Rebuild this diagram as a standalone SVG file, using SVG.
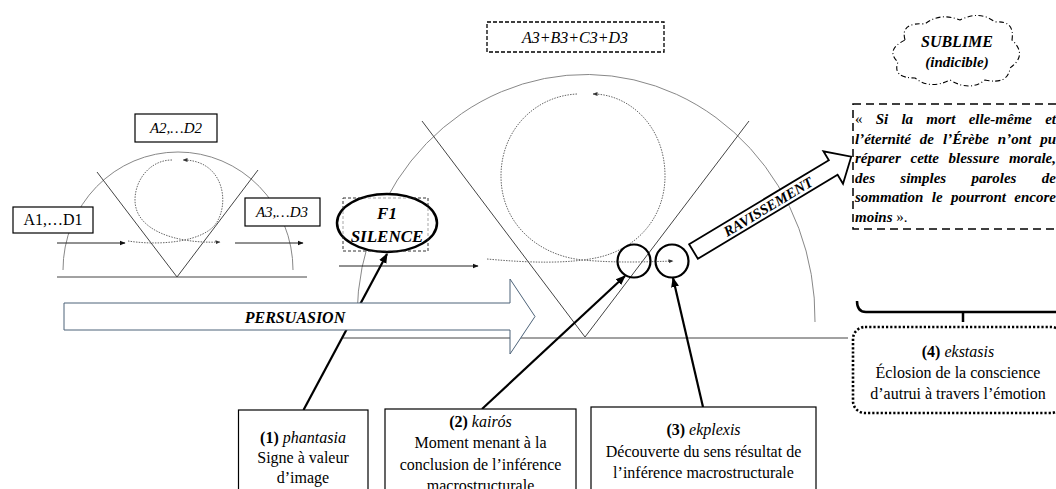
<svg xmlns="http://www.w3.org/2000/svg" width="1056" height="489" viewBox="0 0 1056 489">
<style>
text{font-family:"Liberation Serif","Times New Roman",serif;fill:#000}
.t16{font-size:16px}
.it{font-style:italic}
.b{font-weight:bold}
.bi{font-weight:bold;font-style:italic}
.box{fill:#fff;stroke:#000;stroke-width:1.2}
.arc{fill:none;stroke:#888;stroke-width:1}
.vl{fill:none;stroke:#444;stroke-width:1}
.dot{fill:none;stroke:#666;stroke-width:1;stroke-dasharray:1.5 1.2}
.thin{fill:none;stroke:#222;stroke-width:1}
.con{fill:none;stroke:#000;stroke-width:2.2}
.qw{font-size:15px;font-weight:bold;font-style:italic}
</style>
<defs>
<marker id="ah" viewBox="0 0 10 10" refX="9" refY="5" markerWidth="10" markerHeight="10" markerUnits="userSpaceOnUse" orient="auto"><path d="M0,1 L10,5 L0,9 z" fill="#000"/></marker>
<marker id="ahs" viewBox="0 0 10 10" refX="9" refY="5" markerWidth="6" markerHeight="6" markerUnits="userSpaceOnUse" orient="auto"><path d="M0,1 L10,5 L0,9 z" fill="#111"/></marker>
<marker id="ahd" viewBox="0 0 10 10" refX="9" refY="5" markerWidth="5" markerHeight="5" markerUnits="userSpaceOnUse" orient="auto"><path d="M0,1 L10,5 L0,9 z" fill="#333"/></marker>
</defs>

<!-- small diagram -->
<g id="small-diagram">
<path class="arc" d="M63,270 A115,118 0 1 1 293,270"/>
<line class="vl" x1="57" y1="277" x2="307" y2="277"/>
<path class="vl" d="M97,172 L177,277 L258,170"/>
<path class="dot" d="M128,241 C160,246 205,242 217,222 C230,200 222,160 183,160" marker-end="url(#ahd)"/>
<path class="dot" d="M172,160 C150,160 135,180 135,200 C135,230 175,244 220,242" marker-end="url(#ahd)"/>
<line class="thin" x1="57" y1="243" x2="125" y2="243" marker-end="url(#ahs)"/>
<line class="thin" x1="235" y1="243" x2="303" y2="243" marker-end="url(#ahs)"/>
</g>
<g id="node-a1">
<rect class="box" x="13" y="207" width="80" height="26"/>
<text class="t16" x="53" y="225" text-anchor="middle">A1,…D1</text>
</g>
<g id="node-a2">
<rect class="box" x="135" y="114" width="82" height="28"/>
<text class="it" font-size="15" x="176" y="133" text-anchor="middle">A2,…D2</text>
</g>
<g id="node-a3">
<rect class="box" x="245" y="198" width="75" height="28"/>
<text class="it" font-size="15" x="282" y="217" text-anchor="middle">A3,…D3</text>
</g>

<!-- big diagram -->
<g id="big-diagram">
<path class="arc" d="M357,315 A229,244 0 1 1 815,322"/>
<line class="vl" x1="343" y1="338" x2="848" y2="338"/>
<path class="vl" stroke="#555" d="M422,121 L585,337 L749,121"/>
<path class="dot" d="M487,259 C530,263 570,264 600,257 C640,247 665,215 665,176 C665,125 628,94 593,94" marker-end="url(#ahd)"/>
<path class="dot" d="M577,94 C535,96 501,130 501,176 C501,225 540,256 583,260 C615,263 645,262 673,261" marker-end="url(#ahd)"/>
<line class="thin" x1="339" y1="266" x2="478" y2="266" marker-end="url(#ahs)"/>
</g>
<g id="node-sum">
<rect x="487" y="22" width="177" height="30" fill="#fff" stroke="#000" stroke-width="1.3" stroke-dasharray="4 2"/>
<text class="it" font-size="16" x="575" y="43" text-anchor="middle">A3+B3+C3+D3</text>
</g>
<g id="node-kairos-circle"><circle cx="634" cy="261" r="16.5" fill="none" stroke="#000" stroke-width="2.2"/></g>
<g id="node-ekplexis-circle"><circle cx="672" cy="261" r="16.5" fill="none" stroke="#000" stroke-width="2.2"/></g>

<!-- connectors -->
<g id="connectors">
<line class="con" x1="303.5" y1="410" x2="387" y2="254" marker-end="url(#ah)"/>
<line class="con" x1="482" y1="409" x2="625" y2="276" marker-end="url(#ah)"/>
<line class="con" x1="703" y1="407" x2="673" y2="278" marker-end="url(#ah)"/>
</g>

<g id="node-persuasion">
<path d="M64,303 L510,303 L510,279 L535,316.5 L510,354 L510,330 L64,330 Z" fill="#fff" stroke="#4d6379" stroke-width="1"/>
<text class="bi" font-size="16" x="295" y="323" text-anchor="middle">PERSUASION</text>
</g>

<g id="node-silence">
<rect x="343" y="198" width="85" height="53" fill="none" stroke="#444" stroke-width="0.8" stroke-dasharray="3 2"/>
<ellipse cx="387" cy="223" rx="50" ry="29" fill="#fff" stroke="#000" stroke-width="2.5"/>
<rect x="343" y="198" width="85" height="53" fill="none" stroke="#444" stroke-width="0.8" stroke-dasharray="3 2" opacity="0.6"/>
<text class="bi" font-size="17" x="387" y="219" text-anchor="middle">F1</text>
<text class="bi" font-size="17" x="387" y="242" text-anchor="middle">SILENCE</text>
</g>

<g id="node-ravissement" transform="translate(693.5,251.5) rotate(-31)">
<path d="M0,-8.5 L163,-8.5 L163,-19 L184,0 L163,19 L163,8.5 L0,8.5 Z" fill="#fff" stroke="#000" stroke-width="1.8"/>
<text class="bi" font-size="14.5" x="87" y="5" text-anchor="middle">RAVISSEMENT</text>
</g>

<g id="node-sublime">
<path d="M905,40 Q900,22 925,24 Q940,12 960,20 Q980,10 995,22 Q1015,20 1012,40 Q1028,55 1010,68 Q1008,85 985,80 Q970,92 950,80 Q930,90 915,78 Q892,78 898,62 Q885,50 905,40 Z" fill="#fff" stroke="#000" stroke-width="1.1" stroke-dasharray="5 2.5 1 2.5"/>
<text class="bi" font-size="16" x="957" y="47" text-anchor="middle">SUBLIME</text>
<text class="bi" font-size="15" x="957" y="67" text-anchor="middle">(indicible)</text>
</g>

<g id="node-quote">
<rect x="853" y="104" width="220" height="125" fill="#fff" stroke="#000" stroke-width="1.5" stroke-dasharray="8 5"/>
<text y="124"><tspan x="855" font-size="15">«</tspan><tspan class="qw" x="875.7">Si</tspan><tspan class="qw" x="901.4">la</tspan><tspan class="qw" x="926.3">mort</tspan><tspan class="qw" x="968.7">elle-même</tspan></text>
<text class="qw" x="1056" y="124" text-anchor="end">et</text>
<text y="143.5"><tspan class="qw" x="855">l’éternité</tspan><tspan class="qw" x="919.8">de</tspan><tspan class="qw" x="943">l’Érèbe</tspan><tspan class="qw" x="997.8">n’ont</tspan></text>
<text class="qw" x="1056" y="143.5" text-anchor="end">pu</text>
<text y="163"><tspan class="qw" x="855">réparer</tspan><tspan class="qw" x="910.5">cette</tspan><tspan class="qw" x="948.5">blessure</tspan></text>
<text class="qw" x="1056" y="163" text-anchor="end">morale,</text>
<text y="182.5"><tspan class="qw" x="855">des</tspan><tspan class="qw" x="900.3">simples</tspan><tspan class="qw" x="971.4">paroles</tspan></text>
<text class="qw" x="1056" y="182.5" text-anchor="end">de</text>
<text y="202"><tspan class="qw" x="855">sommation</tspan><tspan class="qw" x="931.8">le</tspan><tspan class="qw" x="951">pourront</tspan></text>
<text class="qw" x="1056" y="202" text-anchor="end">encore</text>
<text y="221.5" font-size="15"><tspan class="qw" x="855">moins</tspan> »<tspan>.</tspan></text>
</g>

<g id="node-brace">
<path d="M857,301 Q857,312 866,312 L1060,312 Q1069,312 1069,301 M963,312 L963,322" fill="none" stroke="#000" stroke-width="2.5"/>
</g>

<g id="node-ekstasis">
<rect x="853" y="327" width="210" height="86" rx="12" fill="#fff" stroke="#000" stroke-width="2.6" stroke-dasharray="2.2 2"/>
<text class="t16" x="958" y="357" text-anchor="middle"><tspan class="b">(4)</tspan> <tspan class="it">ekstasis</tspan></text>
<text class="t16" x="958" y="378" text-anchor="middle">Éclosion de la conscience</text>
<text class="t16" x="958" y="399" text-anchor="middle">d’autrui à travers l’émotion</text>
</g>

<g id="node-phantasia">
<rect class="box" x="238.5" y="410" width="129.5" height="100"/>
<text class="t16" x="303" y="443" text-anchor="middle"><tspan class="b">(1)</tspan> <tspan class="it">phantasia</tspan></text>
<text class="t16" x="303" y="463" text-anchor="middle">Signe à valeur</text>
<text class="t16" x="303" y="483" text-anchor="middle">d’image</text>
</g>

<g id="node-kairos">
<rect class="box" x="385" y="409" width="191" height="100"/>
<text class="t16" x="480.5" y="427" text-anchor="middle"><tspan class="b">(2)</tspan> <tspan class="it">kairós</tspan></text>
<text class="t16" x="480.5" y="448" text-anchor="middle">Moment menant à la</text>
<text class="t16" x="480.5" y="469.5" text-anchor="middle">conclusion de l’inférence</text>
<text class="t16" x="480.5" y="491" text-anchor="middle">macrostructurale</text>
</g>

<g id="node-ekplexis">
<rect class="box" x="591" y="407" width="225" height="100"/>
<text class="t16" x="703.5" y="435" text-anchor="middle"><tspan class="b">(3)</tspan> <tspan class="it">ekplexis</tspan></text>
<text class="t16" x="703.5" y="457" text-anchor="middle">Découverte du sens résultat de</text>
<text class="t16" x="703.5" y="478" text-anchor="middle">l’inférence macrostructurale</text>
</g>
</svg>
